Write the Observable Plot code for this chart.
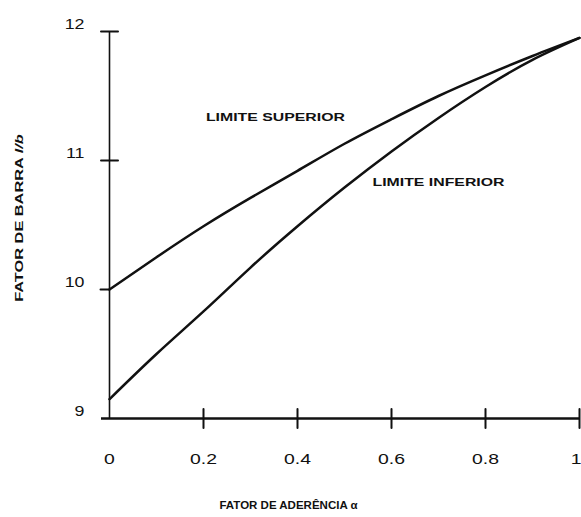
<!DOCTYPE html>
<html>
<head>
<meta charset="utf-8">
<script src="https://cdn.jsdelivr.net/npm/d3@7"></script>
<script src="https://cdn.jsdelivr.net/npm/@observablehq/plot@0.6"></script>
<style>
  html, body { margin: 0; padding: 0; background: #fff; }
  #chart svg { display: block; overflow: visible; }
</style>
</head>
<body>
<div id="chart"></div>
<script>
// Bond factor (alpha) on the horizontal axis
const alpha = [0, 0.1, 0.2, 0.3, 0.4, 0.5, 0.6, 0.7, 0.8, 0.9, 1.0];
// Bar factor, upper and lower limits
const upperLimit = [10.00, 10.25, 10.49, 10.71, 10.92, 11.13, 11.32, 11.50, 11.66, 11.81, 11.95];
const lowerLimit = [9.15, 9.50, 9.83, 10.17, 10.49, 10.79, 11.07, 11.33, 11.57, 11.78, 11.95];

// Axis ticks
const xTicks = [0, 0.2, 0.4, 0.6, 0.8, 1];
const xTickLabels = ["0", "0.2", "0.4", "0.6", "0.8", "1"];
const yTicks = [9, 10, 11, 12];
const yTicksCross = [11, 12];
const yTicksLeft = [10];

// Curve annotations
const curveLabels = ["LIMITE SUPERIOR", "LIMITE INFERIOR"];
const curveLabelX = [0.353, 0.70];
const curveLabelY = [11.33, 10.83];

const xTitle = "FATOR DE ADERÊNCIA α";
const yTitleMain = "FATOR DE BARRA ";
const yTitleSymbol = "l/b";

const upperData = alpha.map((a, i) => ({a, v: upperLimit[i]}));
const lowerData = alpha.map((a, i) => ({a, v: lowerLimit[i]}));
const labelData = curveLabels.map((t, i) => ({t, a: curveLabelX[i], v: curveLabelY[i]}));

// a plain stroke for tick marks drawn with the vector mark
const tickShape = {
  draw(context, l) { context.moveTo(0, 0); context.lineTo(0, -l); }
};

const ink = "#111";
const sans = "Liberation Sans, Arial, sans-serif";

const chart = Plot.plot({
  width: 581,
  height: 517,
  marginLeft: 109,
  marginRight: 2,
  marginTop: 31,
  marginBottom: 99,
  style: {background: "#fff", color: ink},
  x: {domain: [0, 1]},
  y: {domain: [9, 12]},
  marks: [
    // axis lines
    Plot.ruleX([0], {stroke: ink, strokeWidth: 1.6}),
    Plot.ruleY([9], {stroke: ink, strokeWidth: 2.6, insetLeft: -8}),
    // tick marks
    Plot.vector(xTicks.slice(1), {x: d => d, y: 9, length: 19, anchor: "middle", shape: tickShape, stroke: ink, strokeWidth: 2}),
    Plot.vector(yTicksCross, {x: 0, y: d => d, length: 17, rotate: 90, anchor: "middle", shape: tickShape, stroke: ink, strokeWidth: 2}),
    Plot.vector(yTicksLeft, {x: 0, y: d => d, length: 9, rotate: 90, anchor: "end", shape: tickShape, stroke: ink, strokeWidth: 2}),
    // tick labels
    Plot.axisX({
      ticks: xTicks, tickSize: 0, tickPadding: 34,
      tickFormat: d => xTickLabels[xTicks.indexOf(d)],
      label: null, fontSize: 15.5, fontFamily: sans
    }),
    Plot.axisY({
      ticks: yTicks, tickSize: 0, tickPadding: 25, dy: -7.5,
      tickFormat: d => String(d),
      label: null, fontSize: 15.5, fontFamily: sans
    }),
    // curves
    Plot.line(upperData, {x: "a", y: "v", curve: "natural", stroke: ink, strokeWidth: 2.5}),
    Plot.line(lowerData, {x: "a", y: "v", curve: "natural", stroke: ink, strokeWidth: 2.5}),
    // curve labels
    Plot.text(labelData, {
      x: "a", y: "v", text: "t",
      fontSize: 11, fontWeight: "bold", fontFamily: sans, fill: ink
    }),
    // axis titles
    Plot.text([xTitle], {
      text: d => d, frameAnchor: "bottom", textAnchor: "middle", dx: -56, dy: 90,
      fontSize: 11.5, fontWeight: "bold", fontFamily: sans, fill: ink
    }),
    Plot.text([yTitleMain + yTitleSymbol], {
      text: d => d, frameAnchor: "left", textAnchor: "middle", rotate: -90, dx: -90, dy: -7,
      fontSize: 11.5, fontWeight: "bold", fontFamily: sans, fill: ink
    })
  ]
});

document.getElementById("chart").appendChild(chart);

// widen the lettering horizontally, keeping each text's anchor
function stretch(node, factor) {
  const len = node.getComputedTextLength();
  node.setAttribute("textLength", (len * factor).toFixed(1));
  node.setAttribute("lengthAdjust", "spacingAndGlyphs");
}

const lastXLabel = xTickLabels[xTickLabels.length - 1];

d3.select(chart).selectAll("text").each(function () {
  const t = d3.select(this);
  const s = this.textContent;
  if (curveLabels.includes(s)) {
    stretch(this, 1.44);
  } else if (s === yTitleMain + yTitleSymbol) {
    t.text(null);
    t.append("tspan").text(yTitleMain);
    t.append("tspan").attr("font-style", "italic").text(yTitleSymbol);
    stretch(this, 1.42);
  } else if (xTickLabels.includes(s) && this.closest('g[aria-label="x-axis tick label"]')) {
    stretch(this, 1.25);
    // the label at the right end sits flush against the edge
    if (s === lastXLabel) t.attr("text-anchor", "end").attr("dx", 2);
  } else if (yTicks.map(String).includes(s)) {
    stretch(this, 1.15);
  }
});
</script>
</body>
</html>
